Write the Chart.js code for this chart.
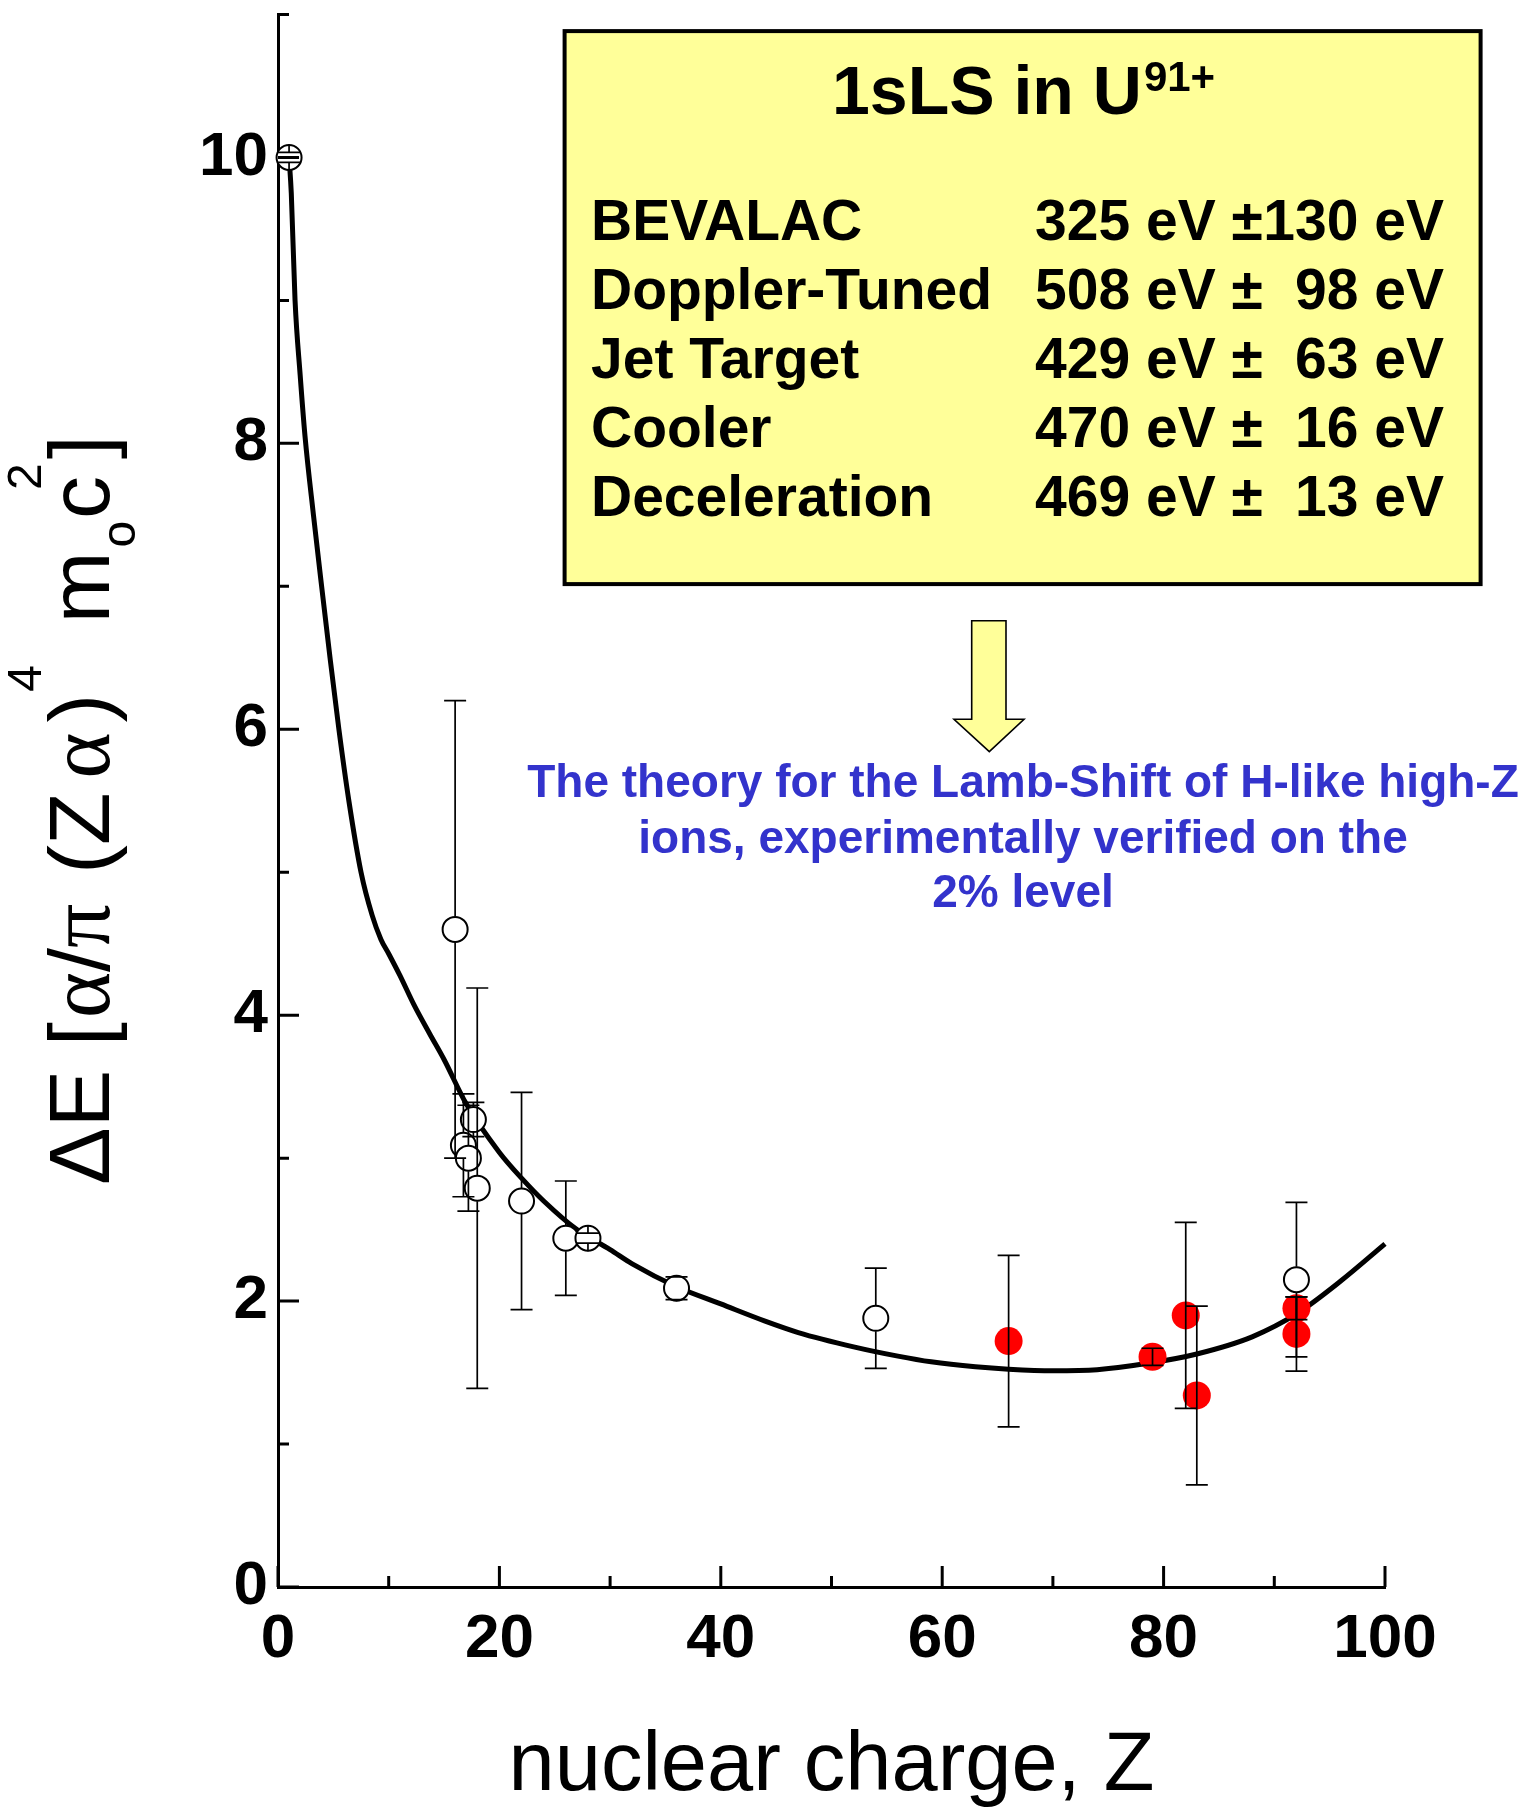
<!DOCTYPE html>
<html><head><meta charset="utf-8">
<script src="https://cdn.jsdelivr.net/npm/chart.js@4.4.1/dist/chart.umd.min.js"></script>
<style>html,body{margin:0;padding:0;background:#fff;overflow:hidden}#wrap{width:1537px;height:1807px;position:relative}</style>
</head><body><div id="wrap"><canvas id="c" width="1537" height="1807"></canvas></div>
<script>
// ---- data ----
const curveZ = [1, 1.2, 1.54, 2.0, 2.44, 3.2, 3.94, 4.7, 5.5, 6.4, 7.5, 8.5, 9.3, 10, 11, 12.3, 13.7, 15, 17, 20, 22, 24, 27, 30, 32, 36, 40, 44, 47, 52, 56, 59, 63, 66, 70, 74, 79, 83, 88, 92, 96, 100];
const curveV = [10.0, 9.75, 9.0, 8.48, 8.05, 7.5, 7.0, 6.5, 6.0, 5.5, 5.0, 4.7, 4.53, 4.43, 4.28, 4.07, 3.87, 3.69, 3.38, 3.04, 2.86, 2.70, 2.50, 2.36, 2.26, 2.10, 1.98, 1.86, 1.78, 1.68, 1.615, 1.575, 1.54, 1.523, 1.512, 1.52, 1.57, 1.63, 1.75, 1.91, 2.14, 2.40];

const openZ   = [1, 16, 16.75, 17.2, 17.65, 18, 22, 26, 28, 36, 54, 92];
const openV   = [10.0, 4.6, 3.09, 3.0, 3.27, 2.79, 2.70, 2.44, 2.44, 2.09, 1.88, 2.15];
const openErr = [0.035, 1.6, 0.36, 0.37, 0.12, 1.4, 0.76, 0.40, 0.035, 0.08, 0.35, 0.54];

const redZ   = [66, 79, 82, 83, 92, 92];
const redV   = [1.72, 1.61, 1.90, 1.34, 1.95, 1.77];
const redErr = [0.60, 0.06, 0.65, 0.625, 0.08, 0.26];

const xTickLabels = ['0', '20', '40', '60', '80', '100'];
const yTickLabels = ['0', '2', '4', '6', '8', '10'];

const boxTitle = '1sLS in U';
const boxTitleSup = '91+';
const methods = ['BEVALAC', 'Doppler-Tuned', 'Jet Target', 'Cooler', 'Deceleration'];
const shiftValues = [325, 508, 429, 470, 469];
const shiftErrors = [130, 98, 63, 16, 13];
const noteLines = ['The theory for the Lamb-Shift of H-like high-Z', 'ions, experimentally verified on the', '2% level'];
const xTitle = 'nuclear charge, Z';

// ---- helpers ----
const SANS = "'Liberation Sans', Arial, Helvetica, sans-serif";
const SERIF = "'Liberation Serif', 'Times New Roman', serif";
const pts = (xs, ys) => xs.map((x, i) => ({x: x, y: ys[i]}));

const axisTicksPlugin = {
  id: 'inTicks',
  afterDraw(chart) {
    const {ctx, chartArea} = chart;
    const xs = chart.scales.x, ys = chart.scales.y;
    ctx.save();
    ctx.strokeStyle = '#000'; ctx.lineWidth = 3; ctx.lineCap = 'butt';
    ctx.beginPath();
    xs.ticks.forEach(t => {
      const px = xs.getPixelForValue(t.value);
      const len = (t.value % 20 === 0) ? 21 : 11;
      ctx.moveTo(px, chartArea.bottom); ctx.lineTo(px, chartArea.bottom - len);
    });
    ys.ticks.forEach(t => {
      const py = ys.getPixelForValue(t.value);
      const len = (t.value % 2 === 0) ? 21 : 11;
      ctx.moveTo(chartArea.left, py); ctx.lineTo(chartArea.left + len, py);
    });
    ctx.stroke();
    ctx.restore();
  }
};

const errorBarPlugin = {
  id: 'errBars',
  afterDatasetsDraw(chart) {
    const {ctx} = chart;
    const xs = chart.scales.x, ys = chart.scales.y;
    const cap = 11;
    ctx.save();
    ctx.strokeStyle = '#000'; ctx.lineWidth = 1.7;
    const draw = (Z, V, E, r, through) => {
      const px = xs.getPixelForValue(Z);
      const py = ys.getPixelForValue(V);
      const top = ys.getPixelForValue(V + E);
      const bot = ys.getPixelForValue(V - E);
      ctx.beginPath();
      if (through) {
        ctx.moveTo(px, top); ctx.lineTo(px, bot);
      } else {
        ctx.moveTo(px, py - r); ctx.lineTo(px, top);
        ctx.moveTo(px, py + r); ctx.lineTo(px, bot);
      }
      ctx.moveTo(px - cap, top); ctx.lineTo(px + cap, top);
      ctx.moveTo(px - cap, bot); ctx.lineTo(px + cap, bot);
      ctx.stroke();
    };
    openZ.forEach((z, i) => draw(z, openV[i], openErr[i], 13, false));
    redZ.forEach((z, i) => draw(z, redV[i], redErr[i], 14, true));
    ctx.restore();
  }
};

const annotationsPlugin = {
  id: 'annots',
  afterDraw(chart) {
    const {ctx} = chart;
    ctx.save();
    // yellow box
    const bx = 564.6, by = 31.1, bw = 916, bh = 553;
    ctx.fillStyle = '#FFFF99';
    ctx.fillRect(bx, by, bw, bh);
    ctx.lineWidth = 4; ctx.strokeStyle = '#000';
    ctx.strokeRect(bx, by, bw, bh);
    // title with superscript
    ctx.fillStyle = '#000';
    ctx.textBaseline = 'alphabetic';
    const tFont = 'bold 68px ' + SANS, sFont = 'bold 42px ' + SANS;
    ctx.font = tFont; const w1 = ctx.measureText(boxTitle).width;
    ctx.font = sFont; const w2 = ctx.measureText(boxTitleSup).width;
    const cx = bx + bw / 2;
    let sx = cx - (w1 + w2) / 2;
    ctx.textAlign = 'left';
    ctx.font = tFont; ctx.fillText(boxTitle, sx, 114);
    ctx.font = sFont; ctx.fillText(boxTitleSup, sx + w1 + 2, 91);
    // rows
    ctx.font = 'bold 57px ' + SANS;
    methods.forEach((m, i) => {
      const yb = 240 + i * 69.1;
      ctx.textAlign = 'left';
      ctx.fillText(m, 591, yb);
      ctx.fillText(shiftValues[i] + ' eV \u00B1', 1035, yb);
      ctx.textAlign = 'right';
      ctx.fillText(shiftErrors[i] + ' eV', 1444, yb);
    });
    // arrow
    ctx.beginPath();
    ctx.moveTo(971.7, 620.7); ctx.lineTo(1006, 620.7); ctx.lineTo(1006, 719.3);
    ctx.lineTo(1024, 719.3); ctx.lineTo(989.3, 751.7); ctx.lineTo(954, 719.3);
    ctx.lineTo(971.7, 719.3); ctx.closePath();
    ctx.fillStyle = '#FFFF99'; ctx.fill();
    ctx.lineWidth = 1.6; ctx.strokeStyle = '#000'; ctx.stroke();
    // blue note
    ctx.fillStyle = '#3333CC';
    ctx.font = 'bold 46px ' + SANS;
    ctx.textAlign = 'center';
    const nb = [797, 852.6, 906.8];
    noteLines.forEach((l, i) => ctx.fillText(l, 1023, nb[i]));

    // y-axis title with sub/superscripts
    const parts = [
      {t: '\u0394E [', f: 'n', g: 4}, {t: '\u03B1', f: 'g', g: 0}, {t: '/', f: 'n', g: 0}, {t: '\u03C0', f: 'g', g: 6},
      {t: ' (Z', f: 'n', g: 14}, {t: '\u03B1', f: 'g', g: 10}, {t: ')', f: 'n', g: 2}, {t: '4', f: 'sup', g: 18},
      {t: ' m', f: 'n', g: 4}, {t: 'o', f: 'sub', g: 2}, {t: 'c', f: 'n', g: 0}, {t: '2', f: 'sup', g: 4}, {t: ']', f: 'n', g: 0}
    ];
    const fontOf = k => k === 'g' ? '88px ' + SERIF : (k === 'n' ? '86px ' + SANS : '48px ' + SANS);
    const dyOf = k => k === 'sup' ? -68 : (k === 'sub' ? 26 : 0);
    let total = 0;
    parts.forEach(p => { ctx.font = fontOf(p.f); p.w = ctx.measureText(p.t).width; total += p.w + p.g; });
    ctx.save();
    ctx.translate(109, 803);
    ctx.rotate(-Math.PI / 2);
    ctx.fillStyle = '#000';
    ctx.textAlign = 'left';
    let x = -total / 2;
    parts.forEach(p => {
      ctx.font = fontOf(p.f);
      let px = x;
      if (p.t === '2') px = x - 14;
      ctx.fillText(p.t, px, dyOf(p.f));
      x += p.w + p.g + (p.t === '2' ? -14 : 0);
    });
    ctx.restore();
    ctx.restore();
  }
};

const chart = new Chart(document.getElementById('c'), {
  type: 'scatter',
  data: {
    datasets: [
      {
        label: 'theory', data: pts(curveZ, curveV), showLine: true, borderColor: '#000', borderWidth: 5,
        pointRadius: 0, cubicInterpolationMode: 'monotone', fill: false, order: 3, clip: false
      },
      {
        label: 'earlier experiments', data: pts(openZ, openV), pointRadius: 12.5, pointBackgroundColor: '#fff',
        pointBorderColor: '#000', pointBorderWidth: 2, showLine: false, order: 2, clip: false
      },
      {
        label: 'GSI results', data: pts(redZ, redV), pointRadius: 14, pointBackgroundColor: '#FF0000',
        pointBorderColor: '#FF0000', pointBorderWidth: 0, showLine: false, order: 1, clip: false
      }
    ]
  },
  options: {
    responsive: false, animation: false, devicePixelRatio: 1,
    layout: {padding: {left: 0, right: 152, top: 12, bottom: 0}},
    plugins: {legend: {display: false}, tooltip: {enabled: false}},
    scales: {
      x: {
        type: 'linear', min: 0, max: 100,
        ticks: {
          stepSize: 10, autoSkip: false, maxRotation: 0, padding: 16, color: '#000',
          font: {family: SANS, size: 62, weight: 'bold'},
          callback: v => xTickLabels.includes(String(v)) ? String(v) : ''
        },
        grid: {display: true, drawOnChartArea: false, drawTicks: false},
        border: {display: true, color: '#000', width: 3},
        title: {display: true, text: xTitle, color: '#000', font: {family: SANS, size: 83, weight: 'normal', lineHeight: 0.95}, padding: {top: 0, bottom: 0}},
        afterFit: s => { s.height = 220; s.paddingLeft = 0; s.paddingRight = 0; }
      },
      y: {
        type: 'linear', min: 0, max: 11,
        ticks: {
          stepSize: 1, autoSkip: false, padding: 10, color: '#000',
          font: {family: SANS, size: 62, weight: 'bold'},
          callback: v => yTickLabels.includes(String(v)) ? String(v) : ''
        },
        grid: {display: true, drawOnChartArea: false, drawTicks: false},
        border: {display: true, color: '#000', width: 3},
        title: {display: false},
        afterFit: s => { s.width = 278; s.paddingTop = 0; s.paddingBottom = 0; }
      }
    }
  },
  plugins: [axisTicksPlugin, errorBarPlugin, annotationsPlugin]
});
</script></body></html>
